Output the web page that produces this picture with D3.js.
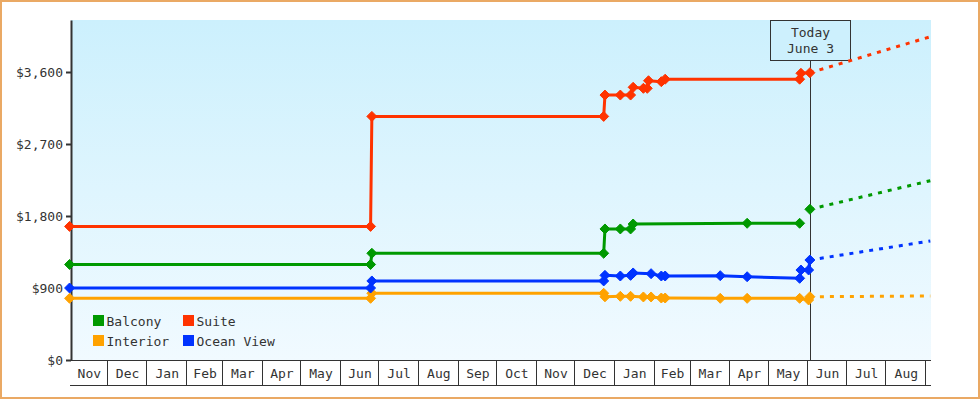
<!DOCTYPE html>
<html>
<head>
<meta charset="utf-8">
<script src="https://cdn.jsdelivr.net/npm/d3@7"></script>
<style>
  body { margin: 0; background: #fff; }
  svg text { font-family: "DejaVu Sans Mono", monospace; font-size: 13px; fill: #333; }
</style>
</head>
<body>
<svg id="chart" width="980" height="400"></svg>
<script>
// ---------- DATA ----------
const seriesNames = ["Balcony", "Suite", "Interior", "Ocean View"];

const suite = [
  ["2017-11-02", 1670], ["2018-06-25", 1670], ["2018-06-26", 3045], ["2018-12-24", 3045],
  ["2018-12-25", 3312], ["2019-01-06", 3312], ["2019-01-14", 3312], ["2019-01-16", 3409],
  ["2019-01-24", 3396], ["2019-01-27", 3396], ["2019-01-28", 3491], ["2019-02-07", 3479],
  ["2019-02-10", 3510], ["2019-05-26", 3510], ["2019-05-27", 3584], ["2019-06-03", 3591]
];
const suiteForecast = [["2019-06-03", 3591], ["2019-09-05", 4041]];

const balcony = [
  ["2017-11-02", 1194], ["2018-06-25", 1194], ["2018-06-26", 1334], ["2018-12-24", 1334],
  ["2018-12-25", 1638], ["2019-01-06", 1638], ["2019-01-14", 1638], ["2019-01-16", 1700],
  ["2019-04-15", 1709], ["2019-05-26", 1709]
];
const balconyForecast = [["2019-06-03", 1884], ["2019-09-05", 2241]];

const oceanView = [
  ["2017-11-02", 900], ["2018-06-25", 900], ["2018-06-26", 988], ["2018-12-24", 988],
  ["2018-12-25", 1058], ["2019-01-06", 1050], ["2019-01-14", 1058], ["2019-01-16", 1088],
  ["2019-01-30", 1079], ["2019-02-07", 1050], ["2019-02-10", 1050], ["2019-03-25", 1054],
  ["2019-04-15", 1041], ["2019-05-26", 1021], ["2019-05-27", 1125], ["2019-06-02", 1125],
  ["2019-06-03", 1250]
];
const oceanViewForecast = [["2019-06-03", 1250], ["2019-09-05", 1488]];

const interior = [
  ["2017-11-02", 771], ["2018-06-25", 771], ["2018-06-26", 834], ["2018-12-24", 834],
  ["2018-12-25", 790], ["2019-01-06", 796], ["2019-01-14", 796], ["2019-01-24", 788],
  ["2019-01-30", 788], ["2019-02-07", 775], ["2019-02-10", 775], ["2019-03-25", 771],
  ["2019-04-15", 771], ["2019-05-26", 771], ["2019-06-02", 750], ["2019-06-03", 791]
];
const interiorForecast = [["2019-06-03", 791], ["2019-09-05", 800]];

const yTicks = [0, 900, 1800, 2700, 3600];
const monthLabels = ["Nov","Dec","Jan","Feb","Mar","Apr","May","Jun","Jul","Aug","Sep","Oct",
                     "Nov","Dec","Jan","Feb","Mar","Apr","May","Jun","Jul","Aug"];
const firstMonth = "2017-11-01";
const todayDate = "2019-06-03";
const todayLabel = ["Today", "June 3"];

// ---------- CHART ----------
const parse = d3.timeParse("%Y-%m-%d");
const svg = d3.select("#chart");

const plotLeft = 71, plotRight = 931, plotTop = 20, plotBottom = 360;

const x = d3.scaleTime()
  .domain([parse("2017-11-01"), parse("2019-09-05")])
  .range([68.3, 930.3]);
const y = d3.scaleLinear().domain([0, 4250]).range([plotBottom, plotTop]);

// outer border
svg.append("rect").attr("x", 1).attr("y", 1).attr("width", 978).attr("height", 397)
  .attr("fill", "none").attr("stroke", "#eaa964").attr("stroke-width", 2);

// background gradient
const defs = svg.append("defs");
const grad = defs.append("linearGradient").attr("id", "bg").attr("x1", 0).attr("y1", 0).attr("x2", 0).attr("y2", 1);
grad.append("stop").attr("offset", "0%").attr("stop-color", "#ccf0fd");
grad.append("stop").attr("offset", "100%").attr("stop-color", "#f1faff");
svg.append("rect").attr("x", plotLeft).attr("y", plotTop)
  .attr("width", plotRight - plotLeft).attr("height", plotBottom - plotTop)
  .attr("fill", "url(#bg)");

// month band axis
const monthStarts = monthLabels.map((_, i) => d3.timeMonth.offset(parse(firstMonth), i));
const monthEnd = d3.timeMonth.offset(parse(firstMonth), monthLabels.length);
const band = svg.append("g");
band.append("line").attr("x1", 70).attr("x2", plotRight).attr("y1", plotBottom + 0.5).attr("y2", plotBottom + 0.5)
  .attr("stroke", "#333").attr("stroke-width", 1);
band.append("line").attr("x1", 70).attr("x2", plotRight).attr("y1", 385.5).attr("y2", 385.5)
  .attr("stroke", "#333").attr("stroke-width", 1);
const bounds = monthStarts.slice(1).concat([monthEnd]);
band.selectAll("line.sep").data(bounds).join("line").attr("class", "sep")
  .attr("x1", d => Math.round(x(d)) + 0.5).attr("x2", d => Math.round(x(d)) + 0.5)
  .attr("y1", plotBottom).attr("y2", 386).attr("stroke", "#333").attr("stroke-width", 1);
band.selectAll("text").data(monthLabels).join("text")
  .attr("x", (d, i) => (Math.max(70, x(monthStarts[i])) + x(i + 1 < monthStarts.length ? monthStarts[i + 1] : monthEnd)) / 2 + 1)
  .attr("y", 378).attr("text-anchor", "middle").text(d => d);

// y axis
const yAxis = d3.axisLeft(y).tickValues(yTicks).tickSize(5).tickSizeOuter(0).tickPadding(3)
  .tickFormat(d => "$" + d3.format(",")(d));
const ya = svg.append("g").attr("transform", `translate(${plotLeft},0)`).call(yAxis);
ya.select(".domain").attr("stroke", "#333").attr("stroke-width", 2);
ya.selectAll(".tick line").attr("stroke", "#333").attr("stroke-width", 2);
ya.selectAll(".tick text").style("font-family", '"DejaVu Sans Mono", monospace').style("font-size", "13px").attr("fill", "#333");
ya.attr("font-family", null).attr("font-size", null);

// today marker
const tx = Math.round(x(parse(todayDate))) + 0.5;
svg.append("line").attr("x1", tx).attr("x2", tx).attr("y1", 61).attr("y2", plotBottom)
  .attr("stroke", "#333").attr("stroke-width", 1);
svg.append("rect").attr("x", tx - 40).attr("y", 20.5).attr("width", 80).attr("height", 40)
  .attr("fill", "#cdf0fd").attr("stroke", "#333").attr("stroke-width", 1);
svg.append("text").attr("x", tx).attr("y", 36.5).attr("text-anchor", "middle").text(todayLabel[0]);
svg.append("text").attr("x", tx).attr("y", 52.5).attr("text-anchor", "middle").text(todayLabel[1]);

// series
const series = [
  { name: "Interior", data: interior, fc: interiorForecast, color: "#ffa200", fcMarker: false },
  { name: "Ocean View", data: oceanView, fc: oceanViewForecast, color: "#0033ff", fcMarker: false },
  { name: "Balcony", data: balcony, fc: balconyForecast, color: "#009900", fcMarker: true },
  { name: "Suite", data: suite, fc: suiteForecast, color: "#ff3300", fcMarker: false }
];
const line = d3.line().x(d => x(parse(d[0]))).y(d => y(d[1]));
const diamond = "M0,-5L5,0L0,5L-5,0Z";

series.forEach(s => {
  const g = svg.append("g");
  g.append("path").attr("d", line(s.fc)).attr("fill", "none").attr("stroke", s.color)
    .attr("stroke-width", 3).attr("stroke-dasharray", "4 6");
  g.append("path").attr("d", line(s.data)).attr("fill", "none").attr("stroke", s.color)
    .attr("stroke-width", 3).attr("stroke-linejoin", "round");
  const pts = s.fcMarker ? s.data.concat([s.fc[0]]) : s.data;
  g.selectAll("path.m").data(pts).join("path").attr("class", "m")
    .attr("d", diamond)
    .attr("transform", d => `translate(${x(parse(d[0]))},${y(d[1])})`)
    .attr("fill", s.color).attr("stroke", s.color).attr("stroke-width", 1).attr("stroke-linejoin", "round");
});

// legend
const colorOf = { "Balcony": "#009900", "Suite": "#ff3300", "Interior": "#ffa200", "Ocean View": "#0033ff" };
const legend = svg.append("g");
seriesNames.forEach((n, i) => {
  const col = i % 2, row = Math.floor(i / 2);
  const lx = 93 + col * 90, ly = 315 + row * 20;
  legend.append("rect").attr("x", lx).attr("y", ly).attr("width", 11).attr("height", 11).attr("fill", colorOf[n]);
  legend.append("text").attr("x", lx + 13.5).attr("y", ly + 10.5).text(n);
});
</script>
</body>
</html>
